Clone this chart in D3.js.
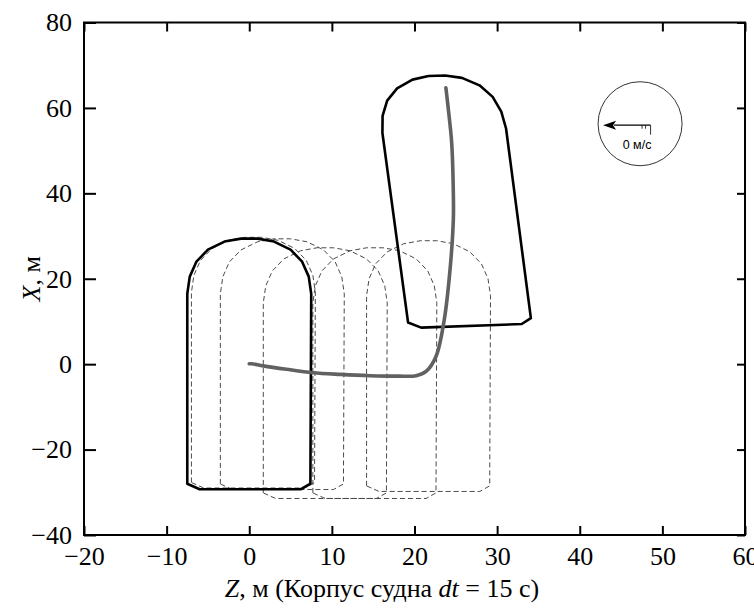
<!doctype html>
<html>

<head>
    <meta charset="utf-8">
    <title>hull track</title>
    <script src="https://d3js.org/d3.v7.min.js"></script>
    <style>
      body { margin: 0; background: #fff; }
    </style>
</head>

<body>

    <script>

    // canvas parameters
    var canvasWidth = 754;
    var canvasHeight = 610;
    var margin = {top: 22.5, right: 9, bottom: 75, left: 84};

    // axis ranges and ticks
    var zDomain = [-20, 60];
    var xDomain = [-40, 80];
    var zTicks = [-20, -10, 0, 10, 20, 30, 40, 50, 60];
    var xTicks = [-40, -20, 0, 20, 40, 60, 80];

    // hull outline in ship coordinates (across, along), metres
    var hullAcross = [-7.5, -7.5, -7.2, -6.4, -5.0, -3.0, -1.0, 1.0, 3.0, 5.0, 6.4, 7.2, 7.5, 7.4, 6.2, -6.0];
    var hullAlong  = [-28.0, 16.5, 20.5, 24.0, 26.8, 28.7, 29.4, 29.4, 28.7, 26.8, 24.0, 20.5, 16.5, -28.0, -29.3, -29.3];

    // solid hulls: start and end position (centre Z, centre X, heading deg)
    var solidZ = [0.0, 24.75];
    var solidX = [0.0, 38.2];
    var solidHeading = [0, 4];

    // dashed hulls every dt = 15 s
    var dashedZ = [0.5, 4.0, 9.2, 15.2, 21.7];
    var dashedX = [0.3, -0.05, -2.15, -2.15, -0.5];
    var dashedHeading = [0, 0, 0, 0, 0];

    // track of the ship
    var trackZ = [0.0, 0.3, 1.7, 4.5, 7.7, 11.0, 14.6, 18.0, 20.2, 21.4, 22.6, 23.6, 24.3, 24.7, 24.7, 24.5, 24.1, 23.8];
    var trackX = [0.1, 0.1, -0.4, -1.2, -2.0, -2.4, -2.7, -2.8, -2.7, -1.7, 1.8, 10.4, 22.1, 33.8, 40.1, 51.8, 59.6, 64.7];

    // current indicator
    var currentZ = 47.3;
    var currentX = 56.3;
    var currentLabel = '0 м/с';

    var svg = d3.select('body')
                .append('svg')
                .attr('width', canvasWidth)
                .attr('height', canvasHeight)
                .style('display', 'block');

    var zScale = d3.scaleLinear()
                   .domain(zDomain)
                   .range([margin.left, canvasWidth - margin.right]);

    var xScale = d3.scaleLinear()
                   .domain(xDomain)
                   .range([canvasHeight - margin.bottom, margin.top]);

    var plotBottom = canvasHeight - margin.bottom;
    var plotRight = canvasWidth - margin.right;

    // hull outline placed at a position with a heading
    function hullPoints(cz, cx, deg) {
      var t = deg * Math.PI / 180;
      return hullAcross.map(function (u, i) {
        var v = hullAlong[i];
        return [cz + u * Math.cos(t) - v * Math.sin(t),
                cx + u * Math.sin(t) + v * Math.cos(t)];
      });
    }

    var hullLine = d3.line()
                     .x(function (d) { return zScale(d[0]); })
                     .y(function (d) { return xScale(d[1]); })
                     .curve(d3.curveLinearClosed);

    // dashed hulls
    svg.append('g').selectAll('path')
       .data(dashedZ.map(function (z, i) { return hullPoints(z, dashedX[i], dashedHeading[i]); }))
       .enter()
       .append('path')
       .attr('d', hullLine)
       .attr('fill', 'none')
       .attr('stroke', '#4a4a4a')
       .attr('stroke-width', 1)
       .attr('stroke-dasharray', '5,3');

    // solid hulls
    svg.append('g').selectAll('path')
       .data(solidZ.map(function (z, i) { return hullPoints(z, solidX[i], solidHeading[i]); }))
       .enter()
       .append('path')
       .attr('d', hullLine)
       .attr('fill', 'none')
       .attr('stroke', '#000')
       .attr('stroke-width', 2.6)
       .attr('stroke-linejoin', 'round');

    // track
    var trackLine = d3.line()
                      .x(function (d) { return zScale(d[0]); })
                      .y(function (d) { return xScale(d[1]); })
                      .curve(d3.curveCatmullRom);

    svg.append('path')
       .datum(trackZ.map(function (z, i) { return [z, trackX[i]]; }))
       .attr('d', trackLine)
       .attr('fill', 'none')
       .attr('stroke', '#616161')
       .attr('stroke-width', 3.6)
       .attr('stroke-linecap', 'round');

    // axes, ticks inside
    var tickFont = '"Liberation Serif", "Times New Roman", Times, serif';

    var bottomAxis = svg.append('g')
       .attr('transform', 'translate(0,' + plotBottom + ')')
       .call(d3.axisBottom(zScale).tickValues(zTicks).tickSize(-9).tickPadding(12));

    var leftAxis = svg.append('g')
       .attr('transform', 'translate(' + margin.left + ',0)')
       .call(d3.axisLeft(xScale).tickValues(xTicks).tickSize(-12).tickPadding(12));

    var topAxis = svg.append('g')
       .attr('transform', 'translate(0,' + margin.top + ')')
       .call(d3.axisTop(zScale).tickValues(zTicks).tickSize(-9).tickFormat(''));

    var rightAxis = svg.append('g')
       .attr('transform', 'translate(' + plotRight + ',0)')
       .call(d3.axisRight(xScale).tickValues(xTicks).tickSize(-8).tickFormat(''));

    [bottomAxis, leftAxis, topAxis, rightAxis].forEach(function (a) {
      a.attr('font-family', null).attr('font-size', null);
      a.select('.domain').remove();
      a.selectAll('.tick line').attr('stroke', '#000').attr('stroke-width', 2);
      a.selectAll('.tick text')
       .attr('fill', '#000')
       .style('font-family', tickFont)
       .style('font-size', '26px');
    });

    // frame
    svg.append('rect')
       .attr('x', margin.left)
       .attr('y', margin.top)
       .attr('width', plotRight - margin.left)
       .attr('height', plotBottom - margin.top)
       .attr('fill', 'none')
       .attr('stroke', '#000')
       .attr('stroke-width', 2);

    // axis titles
    var zTitle = svg.append('text')
       .attr('x', 382)
       .attr('y', 597)
       .attr('text-anchor', 'middle')
       .style('font-family', tickFont)
       .style('font-size', '26px');
    zTitle.append('tspan').style('font-style', 'italic').text('Z');
    zTitle.append('tspan').text(', м (Корпус судна ');
    zTitle.append('tspan').style('font-style', 'italic').text('dt');
    zTitle.append('tspan').text(' = 15 с)');

    var xTitle = svg.append('text')
       .attr('transform', 'translate(40,' + ((margin.top + plotBottom) / 2) + ') rotate(-90)')
       .attr('text-anchor', 'middle')
       .style('font-family', tickFont)
       .style('font-size', '26px');
    xTitle.append('tspan').style('font-style', 'italic').text('X');
    xTitle.append('tspan').text(', м');

    // current indicator
    var cx = zScale(currentZ), cy = xScale(currentX);
    var glyph = svg.append('g').attr('transform', 'translate(' + cx + ',' + cy + ')');

    glyph.append('circle')
         .attr('r', 42)
         .attr('fill', 'none')
         .attr('stroke', '#000')
         .attr('stroke-width', 0.8);

    glyph.append('line')
         .attr('x1', 10.5).attr('y1', 1.5)
         .attr('x2', -26).attr('y2', 1.5)
         .attr('stroke', '#000')
         .attr('stroke-width', 1.2);

    glyph.append('path')
         .attr('d', 'M-37,1.5 L-24,-3 L-27,1.5 L-24,6 Z')
         .attr('fill', '#000');

    glyph.append('line')
         .attr('x1', 10.5).attr('y1', 1.5).attr('x2', 10.5).attr('y2', 11)
         .attr('stroke', '#000').attr('stroke-width', 0.8);
    glyph.append('line')
         .attr('x1', 2).attr('y1', 1.5).attr('x2', 2).attr('y2', 5)
         .attr('stroke', '#000').attr('stroke-width', 0.8);
    glyph.append('line')
         .attr('x1', 5.5).attr('y1', 1.5).attr('x2', 5.5).attr('y2', 5)
         .attr('stroke', '#000').attr('stroke-width', 0.8);

    glyph.append('text')
         .attr('x', -3)
         .attr('y', 25)
         .attr('text-anchor', 'middle')
         .style('font-family', '"Liberation Sans", Arial, sans-serif')
         .style('font-size', '12.5px')
         .text(currentLabel);

    </script>

</body>

</html>
